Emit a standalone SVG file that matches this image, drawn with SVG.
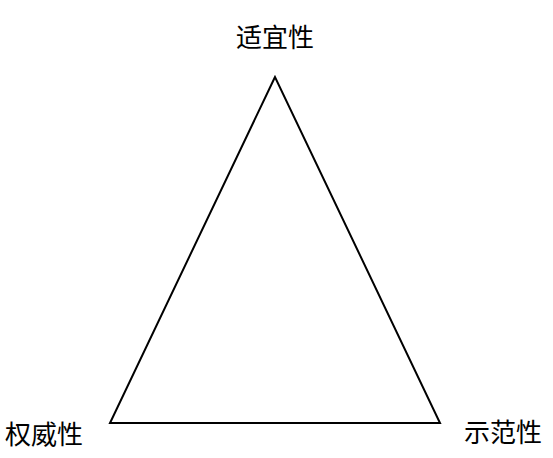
<svg xmlns="http://www.w3.org/2000/svg" width="553" height="458" viewBox="0 0 553 458">
<style>
.lbl{font-family:"Noto Sans CJK SC","Noto Sans",sans-serif;font-size:26px;fill:#000}
.edge{fill:none;stroke:#000;stroke-width:2;stroke-linejoin:miter}
</style>
<rect width="553" height="458" fill="#fff"/>
<g id="connectors">
<path class="edge" d="M275,77 L110,423 L440,423 Z"/>
</g>
<g id="node-top"><text class="lbl" x="275" y="47" text-anchor="middle">适宜性</text></g>
<g id="node-left"><text class="lbl" x="44" y="444" text-anchor="middle">权威性</text></g>
<g id="node-right"><text class="lbl" x="503" y="442" text-anchor="middle">示范性</text></g>
</svg>
